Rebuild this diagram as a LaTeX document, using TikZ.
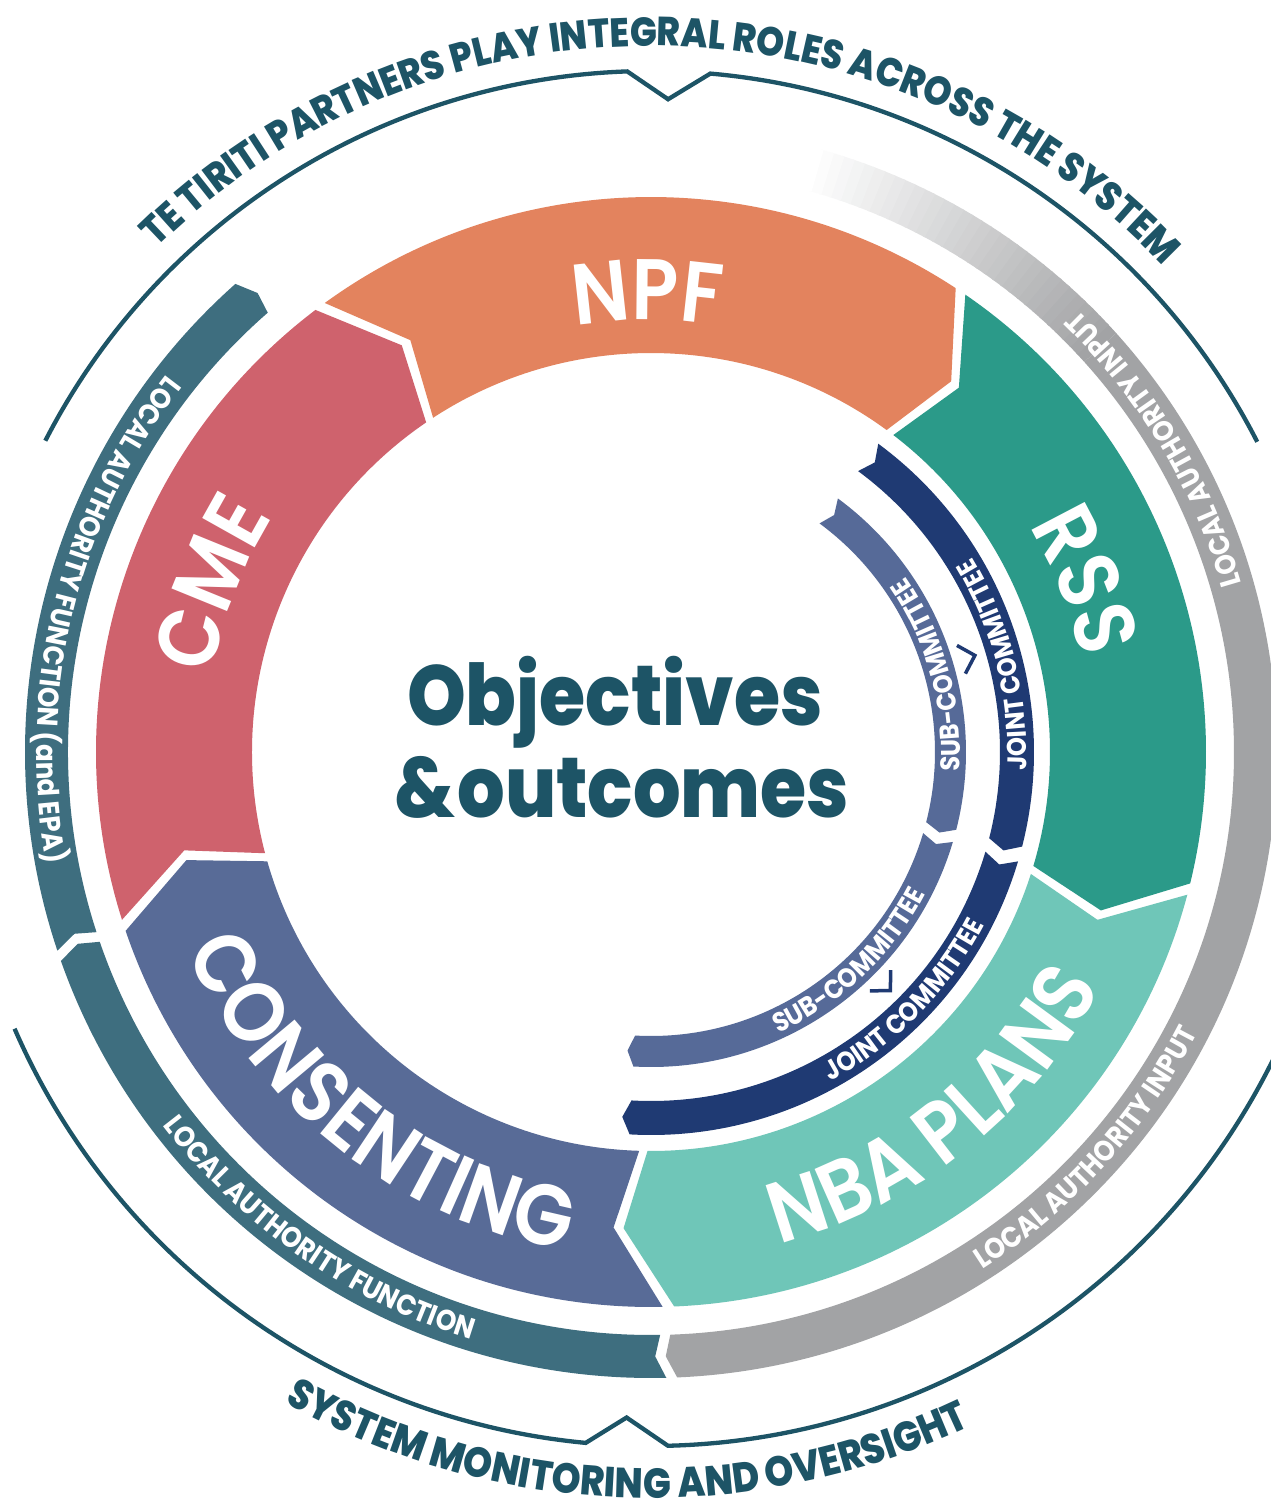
\documentclass[tikz,border=0pt]{standalone}
\usepackage{fontspec}
\setmainfont{Poppins}
\newfontfamily\semifont{Poppins SemiBold}[FakeStretch=0.9]
\newfontfamily\boldfont{Poppins Bold}[FakeStretch=0.9]
\newfontfamily\heavyfont{Poppins ExtraBold}[FakeStretch=0.88]
\usepackage{tikz}
\usetikzlibrary{decorations.text}
\usepackage{xcolor}
\definecolor{npforange}{RGB}{227,131,94}
\definecolor{rssteal}{RGB}{43,154,137}
\definecolor{nbamint}{RGB}{111,198,184}
\definecolor{consentblue}{RGB}{88,107,151}
\definecolor{cmered}{RGB}{207,98,109}
\definecolor{bandteal}{RGB}{62,110,127}
\definecolor{bandgray}{RGB}{162,163,165}
\definecolor{jointnavy}{RGB}{31,58,115}
\definecolor{subblue}{RGB}{86,106,152}
\definecolor{deepteal}{RGB}{29,84,102}
\newcommand{\ringlabel}{\semifont\fontsize{86}{86}\selectfont\color{white}}
\newcommand{\bandlabel}{\boldfont\fontsize{29}{29}\selectfont\color{white}}
\newcommand{\cmtlabel}{\boldfont\fontsize{27}{27}\selectfont\color{white}}
\newcommand{\rimlabel}{\heavyfont\fontsize{40.5}{40.5}\selectfont\color{deepteal}}
\newcommand{\rimlabelb}{\heavyfont\fontsize{42}{42}\selectfont\color{deepteal}}

\begin{document}
\begin{tikzpicture}[x=1pt, y=1pt,
    arctext/.style={decorate, decoration={text along path, text align=center, text={#1}}},
    thinarc/.style={draw=deepteal, line width=4.3, line join=miter},
    chev/.style={draw=jointnavy, line width=3.5},
    centertext/.style={font=\heavyfont\fontsize{85}{85}\selectfont, text=deepteal, inner sep=0pt}
]
\fill[white] (-651,-758) rectangle (620,752);
\useasboundingbox (-651,-758) rectangle (620,752);

% main ring
\fill[npforange] (126:555) arc[start angle=126, end angle=56.7, radius=555] -- (51:477) -- (53.8:399) arc[start angle=53.8, end angle=123.1, radius=399] -- (120.3:477) -- cycle;
\fill[rssteal] (55.5:555) arc[start angle=55.5, end angle=-13.7, radius=555] -- (-19.4:477) -- (-16.6:399) arc[start angle=-16.6, end angle=52.6, radius=399] -- (49.8:477) -- cycle;
\fill[nbamint] (-14.9:555) arc[start angle=-14.9, end angle=-87.6, radius=555] -- (-93.3:477) -- (-90.5:399) arc[start angle=-90.5, end angle=-17.8, radius=399] -- (-20.6:477) -- cycle;
\fill[consentblue] (-88.8:555) arc[start angle=-88.8, end angle=-161.2, radius=555] -- (-166.9:477) -- (-164.1:399) arc[start angle=-164.1, end angle=-91.7, radius=399] -- (-94.5:477) -- cycle;
\fill[cmered] (197.6:555) arc[start angle=197.6, end angle=127.2, radius=555] -- (121.5:477) -- (124.3:399) arc[start angle=124.3, end angle=194.7, radius=399] -- (191.9:477) -- cycle;

% outer bands
\fill[bandgray] (42:626) arc[start angle=42, end angle=-87.6, radius=626] -- (-88.6:604.5) -- (-88.1:583) arc[start angle=-88.1, end angle=42, radius=583] -- cycle;
\foreach \a [evaluate=\a as \p using 100-\a*100/32] in {0,...,32}
  \fill[bandgray!\p!white] ({42+\a}:626) arc[start angle=42+\a, end angle=43.2+\a, radius=626] -- ({43.2+\a}:583) arc[start angle=43.2+\a, end angle=42+\a, radius=583] -- cycle;
\fill[bandteal] (-88.6:626) arc[start angle=-88.6, end angle=-160.5, radius=626] -- (-161.5:604.5) -- (-161:583) arc[start angle=-161, end angle=-89.1, radius=583] -- (-89.6:604.5) -- cycle;
\fill[bandteal] (198.5:626) arc[start angle=198.5, end angle=131.6, radius=626] -- (130.6:604.5) -- (131.1:583) arc[start angle=131.1, end angle=198, radius=583] -- (197.5:604.5) -- cycle;

% committees
\fill[jointnavy] (53.6:383) arc[start angle=53.6, end angle=-14.3, radius=383] -- (-15.6:366) -- (-14.3:349) arc[start angle=-14.3, end angle=53.6, radius=349] -- (52.3:366) -- cycle;
\fill[jointnavy] (-16.6:383) arc[start angle=-16.6, end angle=-93.2, radius=383] -- (-94.5:366) -- (-93.2:349) arc[start angle=-93.2, end angle=-16.6, radius=349] -- (-17.9:366) -- cycle;
\fill[subblue] (53.6:315) arc[start angle=53.6, end angle=-14.3, radius=315] -- (-15.6:299.5) -- (-14.3:284) arc[start angle=-14.3, end angle=53.6, radius=284] -- (52.3:299.5) -- cycle;
\fill[subblue] (-16.6:315) arc[start angle=-16.6, end angle=-93.2, radius=315] -- (-94.5:299.5) -- (-93.2:284) arc[start angle=-93.2, end angle=-16.6, radius=284] -- (-17.9:299.5) -- cycle;
\draw[chev] (19.2:324) -- (16.6:338) -- (14:324);
\draw[chev] (-42.3:324) -- (-44.9:338) -- (-47.5:324);

% outer rim lines
\draw[thinarc] (152.8:681) arc[start angle=152.8, end angle=92, radius=681] -- (88.5:653) -- (85:681) arc[start angle=85, end angle=27.1, radius=681];
\draw[thinarc] (203.5:694) arc[start angle=203.5, end angle=264.6, radius=694] -- (267.9:666) -- (271.4:694) arc[start angle=271.4, end angle=336, radius=694];

% labels along the arcs
\path[arctext={|\rimlabel|TE TIRITI PARTNERS PLAY INTEGRAL ROLES ACROSS THE SYSTEM}] (179:706) arc[start angle=179, end angle=-1, radius=706];
\path[arctext={|\rimlabelb|SYSTEM MONITORING AND OVERSIGHT}] (-172:746) arc[start angle=-172, end angle=-12, radius=746];

\path[arctext={|\ringlabel|NPF}] (130.5:432) arc[start angle=130.5, end angle=50.5, radius=432];
\path[arctext={|\ringlabel|RSS}] (61.5:440) arc[start angle=61.5, end angle=-18.5, radius=440];
\path[arctext={|\ringlabel|NBA PLANS}] (-101.5:508) arc[start angle=-101.5, end angle=-1.5, radius=508];
\path[arctext={|\ringlabel|CONSENTING}] (-188.3:505) arc[start angle=-188.3, end angle=-68.3, radius=505];
\path[arctext={|\ringlabel|CME}] (199:445) arc[start angle=199, end angle=119, radius=445];

\path[arctext={|\bandlabel|LOCAL AUTHORITY INPUT}] (-19:614.5) arc[start angle=-19, end angle=81, radius=614.5];
\path[arctext={|\bandlabel|LOCAL AUTHORITY INPUT}] (-92.3:614.5) arc[start angle=-92.3, end angle=7.7, radius=614.5];
\path[arctext={|\bandlabel|LOCAL AUTHORITY FUNCTION (and EPA)}] (116.3:614.5) arc[start angle=116.3, end angle=216.3, radius=614.5];
\path[arctext={|\bandlabel|LOCAL AUTHORITY FUNCTION}] (185.2:614.5) arc[start angle=185.2, end angle=285.2, radius=614.5];

\path[arctext={|\cmtlabel|SUB-COMMITTEE}] (-24.5:309) arc[start angle=-24.5, end angle=55.5, radius=309];
\path[arctext={|\cmtlabel|JOINT COMMITTEE}] (-25.8:375.5) arc[start angle=-25.8, end angle=54.2, radius=375.5];
\path[arctext={|\cmtlabel|SUB-COMMITTEE}] (-86.5:309) arc[start angle=-86.5, end angle=-6.5, radius=309];
\path[arctext={|\cmtlabel|JOINT COMMITTEE}] (-84.4:375.5) arc[start angle=-84.4, end angle=-4.4, radius=375.5];

% centre
\node[centertext, anchor=base] (obj) at (-36,27) {Objectives};
\node[centertext, anchor=base] (outc) at (-29,-65) {\&\hspace{2pt}outcomes};
\end{tikzpicture}
\end{document}
